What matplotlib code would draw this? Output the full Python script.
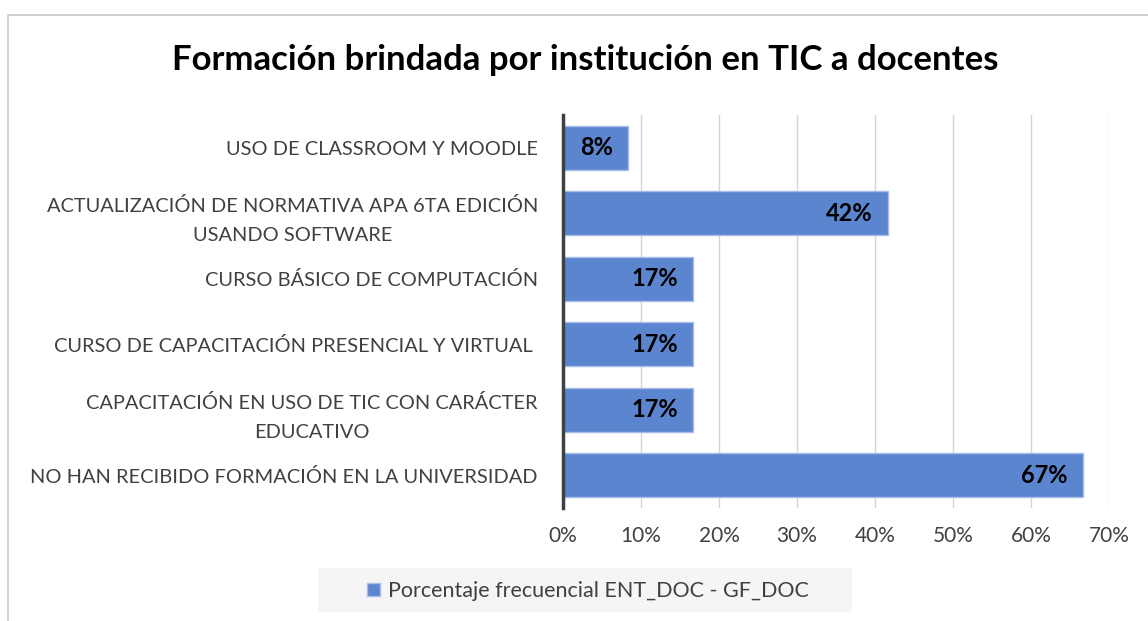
import matplotlib
matplotlib.use("Agg")
import matplotlib.pyplot as plt
from matplotlib.patches import Rectangle
from matplotlib.ticker import PercentFormatter

categories = [
    "USO DE CLASSROOM Y MOODLE",
    "ACTUALIZACIÓN DE NORMATIVA APA 6TA EDICIÓN\nUSANDO SOFTWARE",
    "CURSO BÁSICO DE COMPUTACIÓN",
    "CURSO DE CAPACITACIÓN PRESENCIAL Y VIRTUAL ",
    "CAPACITACIÓN EN USO DE TIC CON CARÁCTER\nEDUCATIVO",
    "NO HAN RECIBIDO FORMACIÓN EN LA UNIVERSIDAD",
]
values = [8.33, 41.67, 16.67, 16.67, 16.67, 66.67]
value_labels = ["8%", "42%", "17%", "17%", "17%", "67%"]
series_name = "Porcentaje frecuencial ENT_DOC - GF_DOC"
title = "Formación brindada por institución en TIC a docentes"

plt.rcParams["font.family"] = ["Lato", "DejaVu Sans"]

W, H = 1148, 621
fig = plt.figure(figsize=(W / 100, H / 100), dpi=100)
ax = fig.add_axes([0.4904, 0.182, 0.4756, 0.633])

# outer chart frame (runs off the right and bottom edges)
fig.patches.append(Rectangle((8 / W, -0.05), 1.1, 1 - 15 / H + 0.05,
                             transform=fig.transFigure, fill=False,
                             edgecolor="#c8c8c8", linewidth=1.2))
# legend background band
fig.patches.append(Rectangle((318 / W, 1 - 612 / H), 534 / W, 44 / H,
                             transform=fig.transFigure, facecolor="#f5f5f5",
                             edgecolor="none", zorder=0))

ypos = list(range(len(categories)))
bars = ax.barh(ypos, values, height=0.67, color="#5b86cf",
               edgecolor="#a8bde6", linewidth=1, zorder=3)
ax.set_xlim(0, 70)
ax.set_ylim(len(categories) - 0.5, -0.5)
ax.set_xticks(range(0, 71, 10))
ax.xaxis.set_major_formatter(PercentFormatter(decimals=0))
ax.set_yticks(ypos)
ax.set_yticklabels(categories, multialignment="center", linespacing=1.85)

ax.grid(axis="x", color="#d4d4d4", linewidth=1, zorder=0)
for side in ("top", "right", "bottom"):
    ax.spines[side].set_visible(False)
ax.spines["left"].set_color("#404040")
ax.spines["left"].set_linewidth(2.5)
ax.spines["left"].set_zorder(4)
ax.tick_params(axis="y", length=0, labelsize=14.4, labelcolor="#404040", pad=18)
ax.tick_params(axis="x", length=0, labelsize=15, labelcolor="#404040", pad=13)

for bar, lab in zip(bars, value_labels):
    ax.annotate(lab, (bar.get_width(), bar.get_y() + bar.get_height() / 2),
                xytext=(-11, 0), textcoords="offset points",
                ha="right", va="center", fontsize=17, fontweight="bold",
                color="black", zorder=5)

fig.text(585 / W, 1 - 60 / H, title, ha="center", va="center",
         fontsize=25, fontweight="bold", color="black")

leg = fig.legend([bars[0]], [series_name], loc="center",
                 bbox_to_anchor=(588 / W, 1 - 591 / H), frameon=False,
                 fontsize=15.5, handlelength=0.6, handleheight=0.6,
                 handletextpad=0.4)
for t in leg.get_texts():
    t.set_color("#404040")

fig.savefig("out.png", dpi=100)
